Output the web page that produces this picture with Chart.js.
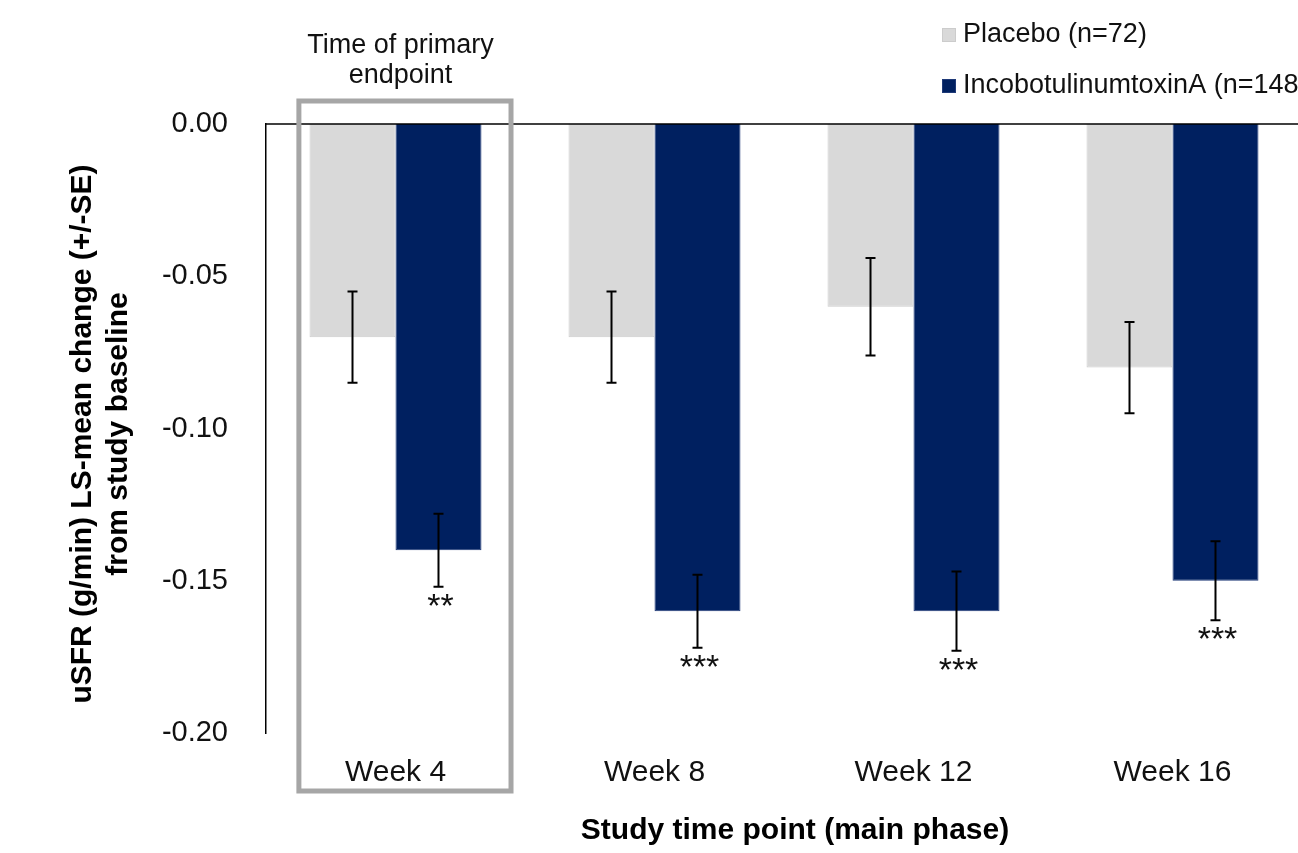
<!DOCTYPE html>
<html>
<head>
<meta charset="utf-8">
<script src="https://cdn.jsdelivr.net/npm/chart.js@4.4.1/dist/chart.umd.min.js"></script>
<style>
  html, body { margin: 0; padding: 0; background: #fff; overflow: hidden; }
  #wrap { position: relative; width: 1302px; height: 853px; }
</style>
</head>
<body>
<div id="wrap"><canvas id="c"></canvas></div>
<script>
// ---- Data ----
const categories = ['Week 4', 'Week 8', 'Week 12', 'Week 16'];
const placeboLabel = 'Placebo (n=72)';
const incoLabel = 'IncobotulinumtoxinA (n=148)';
const placeboMean = [-0.07, -0.07, -0.06, -0.08];
const placeboSE = [0.015, 0.015, 0.016, 0.015];
const incoMean = [-0.14, -0.16, -0.16, -0.15];
const incoSE = [0.012, 0.012, 0.013, 0.013];
const incoSig = ['**', '***', '***', '***'];
const yTicks = [0, -0.05, -0.10, -0.15, -0.20];
const annotationLines = ['Time of primary', 'endpoint'];
const yTitleLines = ['uSFR (g/min) LS-mean change (+/-SE)', 'from study baseline'];
const xTitle = 'Study time point (main phase)';

const FONT = '"Liberation Sans", Arial, sans-serif';
const errors = [placeboSE, incoSE];
const sigs = [null, incoSig];

const overlayPlugin = {
  id: 'overlay',
  afterDatasetsDraw(chart) {
    const ctx = chart.ctx;
    const y = chart.scales.y;
    const x = chart.scales.x;
    ctx.save();
    // error bars and significance marks
    chart.data.datasets.forEach((ds, di) => {
      const meta = chart.getDatasetMeta(di);
      meta.data.forEach((bar, j) => {
        const v = ds.data[j];
        const se = errors[di][j];
        const yTop = y.getPixelForValue(v + se);
        const yBot = y.getPixelForValue(v - se);
        ctx.strokeStyle = '#000';
        ctx.lineWidth = 2;
        ctx.beginPath();
        ctx.moveTo(bar.x, yTop); ctx.lineTo(bar.x, yBot);
        ctx.moveTo(bar.x - 5, yTop); ctx.lineTo(bar.x + 5, yTop);
        ctx.moveTo(bar.x - 5, yBot); ctx.lineTo(bar.x + 5, yBot);
        ctx.stroke();
        if (sigs[di]) {
          ctx.fillStyle = '#111';
          ctx.font = '34px ' + FONT;
          ctx.textAlign = 'center';
          ctx.textBaseline = 'alphabetic';
          ctx.fillText(sigs[di][j], bar.x + 2, yBot + 30);
        }
      });
    });
    // zero line
    const y0 = y.getPixelForValue(0);
    ctx.strokeStyle = '#000';
    ctx.lineWidth = 1.5;
    ctx.beginPath();
    ctx.moveTo(chart.chartArea.left, y0);
    ctx.lineTo(chart.chartArea.right, y0);
    ctx.stroke();

    // primary endpoint box
    const cx = x.getPixelForValue(0);
    const cw = x.getPixelForValue(1) - cx;
    ctx.strokeStyle = '#a6a6a6';
    ctx.lineWidth = 5;
    ctx.strokeRect(cx - 0.373 * cw, 101, 0.819 * cw, 690);
    ctx.fillStyle = '#111';
    ctx.font = '27px ' + FONT;
    ctx.textAlign = 'center';
    ctx.textBaseline = 'middle';
    ctx.fillText(annotationLines[0], cx + 5, 46);
    ctx.fillText(annotationLines[1], cx + 5, 76);

    // legend
    const legendItems = chart.data.datasets.map(d => ({ label: d.label, color: d.backgroundColor, border: d.borderColor }));
    const ly = [35, 86];
    legendItems.forEach((it, i) => {
      ctx.fillStyle = it.color;
      ctx.fillRect(942, ly[i] - 7, 14, 14);
      ctx.strokeStyle = it.border;
      ctx.lineWidth = 1;
      ctx.strokeRect(942.5, ly[i] - 6.5, 13, 13);
      ctx.fillStyle = '#111';
      ctx.font = '27px ' + FONT;
      ctx.textAlign = 'left';
      ctx.textBaseline = 'middle';
      ctx.fillText(it.label, 963, ly[i]);
    });

    // axis titles
    ctx.fillStyle = '#000';
    ctx.font = 'bold 30px ' + FONT;
    ctx.textAlign = 'center';
    ctx.textBaseline = 'alphabetic';
    ctx.fillText(xTitle, 795, 839);
    ctx.save();
    ctx.translate(91, 434);
    ctx.rotate(-Math.PI / 2);
    ctx.fillText(yTitleLines[0], 0, 0);
    ctx.restore();
    ctx.save();
    ctx.translate(127, 434);
    ctx.rotate(-Math.PI / 2);
    ctx.fillText(yTitleLines[1], 0, 0);
    ctx.restore();
    ctx.restore();
  }
};

new Chart(document.getElementById('c'), {
  type: 'bar',
  data: {
    labels: categories,
    datasets: [
      { label: placeboLabel, data: placeboMean, backgroundColor: '#d9d9d9', borderColor: '#cccccc', borderWidth: 1 },
      { label: incoLabel, data: incoMean, backgroundColor: '#002060', borderColor: '#1f3a78', borderWidth: 1 }
    ]
  },
  options: {
    responsive: true,
    maintainAspectRatio: false,
    animation: false,
    events: [],
    layout: { padding: { top: 124, left: 0, right: 0, bottom: 0 } },
    datasets: { bar: { categoryPercentage: 0.664, barPercentage: 1.0 } },
    plugins: { legend: { display: false }, tooltip: { enabled: false } },
    scales: {
      x: {
        grid: { display: false, drawTicks: false },
        border: { display: false },
        ticks: { color: '#111', font: { family: FONT, size: 30 }, padding: 22, maxRotation: 0 },
        afterFit(s) { s.height = 120; }
      },
      y: {
        min: -0.2,
        max: 0,
        afterBuildTicks(s) { s.ticks = yTicks.map(v => ({ value: v })); },
        grid: { display: false, drawTicks: false },
        border: { display: true, color: '#000', width: 1.5 },
        ticks: {
          color: '#111',
          font: { family: FONT, size: 29 },
          padding: 38,
          callback: (v) => Number(v).toFixed(2)
        },
        afterFit(s) { s.width = 266; }
      }
    }
  },
  plugins: [overlayPlugin]
});
</script>
</body>
</html>
